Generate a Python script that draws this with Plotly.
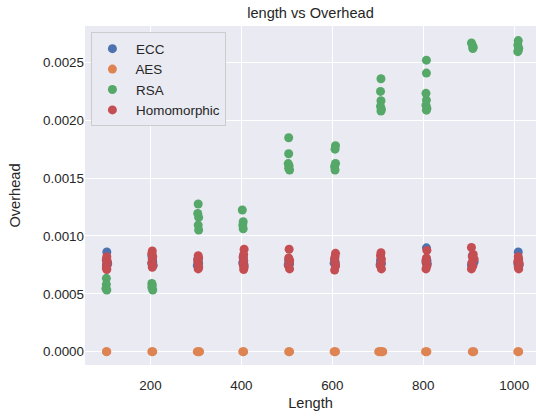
import plotly.graph_objects as go

# ---- data ----
ecc_len = [104, 103, 105, 104, 103, 106,
           203, 204, 205, 203, 206, 204,
           304, 305, 306, 303, 305,
           404, 405, 403, 406, 404,
           504, 505, 506, 503,
           605, 606, 604, 607,
           706, 707, 708, 705,
           807, 808, 806, 809,
           908, 912, 910, 906,
           1009, 1010, 1008, 1011]
ecc_val = [0.000862, 0.00079, 0.00077, 0.000755, 0.00074, 0.00076,
           0.00083, 0.0008, 0.00078, 0.00076, 0.000745, 0.00077,
           0.0008, 0.00078, 0.00076, 0.000745, 0.00077,
           0.00082, 0.00079, 0.00077, 0.00075, 0.00076,
           0.00079, 0.00077, 0.00076, 0.00075,
           0.0008, 0.00078, 0.000765, 0.00075,
           0.00079, 0.00077, 0.00076, 0.00075,
           0.000897, 0.00079, 0.00077, 0.00076,
           0.00083, 0.000778, 0.00076, 0.00075,
           0.000862, 0.00078, 0.00076, 0.00075]

aes_len = [103, 104, 203, 205, 303, 306, 308, 403, 405, 504, 506, 604, 607,
           702, 705, 708, 711, 805, 808, 908, 911, 1008, 1010]
aes_val = [0.0, 0.0, 0.0, 0.0, 0.0, 0.0, 0.0, 0.0, 0.0, 0.0, 0.0, 0.0, 0.0,
           0.0, 0.0, 0.0, 0.0, 0.0, 0.0, 0.0, 0.0, 0.0, 0.0]

rsa_len = [103, 103, 102, 104,
           203, 204, 203, 205,
           305, 304, 306, 305, 306,
           402, 404, 403, 404,
           504, 504, 503, 505, 504, 506,
           607, 606, 607, 605, 606,
           707, 706, 707, 706, 708, 707,
           807, 807, 806, 807, 806, 808, 807,
           906, 908, 910, 909,
           1009, 1008, 1010, 1009, 1008]
rsa_val = [0.000634, 0.000582, 0.000545, 0.000533,
           0.00059, 0.000575, 0.000555, 0.000533,
           0.001276, 0.001195, 0.00116, 0.001094, 0.001051,
           0.001224, 0.001123, 0.001094, 0.001062,
           0.001848, 0.00171, 0.001625, 0.001605, 0.001585, 0.001569,
           0.00178, 0.00175, 0.001627, 0.0016, 0.00157,
           0.002358, 0.002249, 0.002168, 0.00212, 0.002095, 0.002079,
           0.002519, 0.002407, 0.002232, 0.002174, 0.00213, 0.002102, 0.002087,
           0.002668, 0.002649, 0.00263, 0.00262,
           0.002688, 0.002649, 0.002622, 0.002605, 0.002592]

hom_len = [104, 103, 105, 104, 104, 103, 104,
           204, 203, 205, 204, 203, 205, 204,
           305, 306, 304, 305, 306, 305,
           406, 405, 404, 405, 404, 406, 405,
           505, 504, 506, 505, 504, 506,
           607, 606, 605, 606, 607, 605,
           707, 706, 708, 707, 706, 708,
           808, 807, 806, 807, 808, 806,
           906, 910, 908, 912, 907, 909, 906,
           1009, 1010, 1008, 1011, 1009, 1010]
hom_val = [0.00082, 0.0008, 0.00078, 0.00076, 0.00074, 0.00072, 0.00071,
           0.00087, 0.00085, 0.00082, 0.0008, 0.00077, 0.00075, 0.00073,
           0.00083, 0.00081, 0.00079, 0.00076, 0.00073, 0.000715,
           0.000885, 0.00084, 0.00081, 0.00078, 0.00075, 0.00073, 0.00071,
           0.000885, 0.00081, 0.00079, 0.00077, 0.00074, 0.000715,
           0.00085, 0.00082, 0.0008, 0.00077, 0.00074, 0.000705,
           0.000855, 0.00083, 0.0008, 0.00077, 0.00074, 0.000715,
           0.000875, 0.00081, 0.00079, 0.00077, 0.00074, 0.000715,
           0.0009, 0.00084, 0.00082, 0.0008, 0.00077, 0.00074, 0.000715,
           0.00082, 0.0008, 0.00078, 0.00076, 0.00073, 0.000715]

series = [
    ("ECC", ecc_len, ecc_val, "#4C72B0"),
    ("AES", aes_len, aes_val, "#DD8452"),
    ("RSA", rsa_len, rsa_val, "#55A868"),
    ("Homomorphic", hom_len, hom_val, "#C44E52"),
]

FONT = "Arial, 'Liberation Sans', sans-serif"
TXT = "#262626"

fig = go.Figure()
for name, xs, ys, col in series:
    fig.add_trace(go.Scatter(
        x=xs, y=ys, mode="markers", name=" " + name, legendgroup=name,
        marker=dict(color=col, size=9, line=dict(width=0)),
    ))

fig.update_layout(
    width=536, height=417,
    margin=dict(l=85, r=0, t=26, b=52),
    paper_bgcolor="white",
    plot_bgcolor="#EAEAF2",
    font=dict(family=FONT, color=TXT, size=13.4),
    title=dict(text="length vs Overhead", x=0.5, xref="paper", xanchor="center",
               y=0.969, yref="container", yanchor="middle",
               font=dict(size=14.6, color=TXT)),
    xaxis=dict(range=[56, 1048], tickmode="array",
               tickvals=[200, 400, 600, 800, 1000],
               showgrid=True, gridcolor="white", gridwidth=1.3,
               zeroline=False, showline=False, ticks="", ticklen=0,
               ticklabelstandoff=11,
               title=dict(text="Length", font=dict(size=14.6, color=TXT), standoff=5),
               tickfont=dict(size=13.4, color=TXT)),
    yaxis=dict(range=[-0.000115, 0.002814], dtick=0.0005, tick0=0,
               tickformat=".4f",
               showgrid=True, gridcolor="white", gridwidth=1.3,
               zeroline=False, showline=False, ticks="", ticklen=0,
               title=dict(text="Overhead", font=dict(size=14.6, color=TXT), standoff=18),
               tickfont=dict(size=13.4, color=TXT)),
    legend=dict(x=0.0142, y=0.981, xanchor="left", yanchor="top",
                bgcolor="#EAEAF2", bordercolor="#CCCCCC", borderwidth=1,
                font=dict(size=13.4, color=TXT), tracegroupgap=0,
                itemclick=False),
    showlegend=True,
)

fig.write_html("out.html")
